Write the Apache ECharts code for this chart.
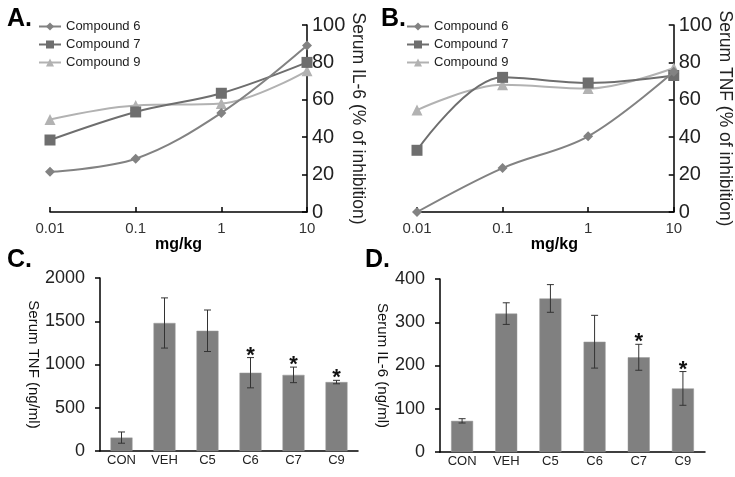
<!DOCTYPE html>
<html>
<head>
<meta charset="utf-8">
<script src="https://cdn.jsdelivr.net/npm/echarts@6/dist/echarts.min.js"></script>
<style>html,body{margin:0;padding:0;background:#fff}#c{width:735px;height:477px}</style>
</head>
<body>
<div id="c"></div>
<script>
// ---- Data ----
const doses = ['0.01', '0.1', '1', '10'];
const seriesNames = ['Compound 6', 'Compound 7', 'Compound 9'];
// Panel A: Serum IL-6 (% of inhibition)
const il6Inhib_c6 = [21.5, 28.5, 53, 89];
const il6Inhib_c7 = [38.5, 53.5, 63.5, 80];
const il6Inhib_c9 = [49.5, 57, 58, 75.5];
// Panel B: Serum TNF (% of inhibition)
const tnfInhib_c6 = [0, 23.5, 40.5, 75];
const tnfInhib_c7 = [33, 72, 69, 73];
const tnfInhib_c9 = [54.5, 68, 66, 77];
// Panels C & D
const groups = ['CON', 'VEH', 'C5', 'C6', 'C7', 'C9'];
const tnfMean = [155, 1480, 1390, 905, 880, 797];
const tnfErr = [65, 290, 240, 175, 90, 20];
const tnfSig = [0, 0, 0, 1, 1, 1];
const il6Mean = [72, 320, 355, 255, 219, 147];
const il6Err = [5, 25, 32, 61, 30, 39];
const il6Sig = [0, 0, 0, 0, 1, 1];

const FONT = 'Liberation Sans, Arial, sans-serif';
const lineColors = ['#828282', '#6e6e6e', '#b2b2b2'];
const symbols = ['diamond', 'rect', 'triangle'];
const symSizes = [10, 11, 11];

function lineSeries(data, idx, axisIdx) {
  return {
    name: seriesNames[idx], type: 'line', xAxisIndex: axisIdx, yAxisIndex: axisIdx,
    data: data, smooth: 0.35, symbol: symbols[idx], symbolSize: symSizes[idx],
    showSymbol: true,
    lineStyle: { color: lineColors[idx], width: 2 },
    itemStyle: { color: lineColors[idx] },
    z: 3 + (2 - idx)
  };
}

function errSeries(means, errs, sig, axisIdx) {
  const d = means.map((m, i) => [i, m, errs[i], sig[i]]);
  return {
    type: 'custom', xAxisIndex: axisIdx, yAxisIndex: axisIdx, z: 5,
    data: d,
    renderItem: function (params, api) {
      const i = api.value(0), m = api.value(1), e = api.value(2), s = api.value(3);
      const top = api.coord([i, m + e]);
      const bot = api.coord([i, m - e]);
      const cap = 3.5;
      const st = { stroke: '#333', lineWidth: 1 };
      const children = [
        { type: 'line', shape: { x1: top[0], y1: top[1], x2: bot[0], y2: bot[1] }, style: st },
        { type: 'line', shape: { x1: top[0] - cap, y1: top[1], x2: top[0] + cap, y2: top[1] }, style: st },
        { type: 'line', shape: { x1: bot[0] - cap, y1: bot[1], x2: bot[0] + cap, y2: bot[1] }, style: st }
      ];
      if (s) {
        children.push({ type: 'text', style: { text: '*', x: top[0], y: top[1] + 9, align: 'center', verticalAlign: 'bottom', font: 'bold 22px ' + FONT, fill: '#111' } });
      }
      return { type: 'group', children: children };
    }
  };
}

const chart = echarts.init(document.getElementById('c'), null, { renderer: 'canvas' });

const lineXAxis = (gi, nameShift) => ({
  type: 'category', gridIndex: gi, data: doses, boundaryGap: false,
  axisLine: { lineStyle: { color: '#000', width: 1.5 } },
  axisTick: { inside: true, length: 5, lineStyle: { color: '#000', width: 1.5 } },
  axisLabel: { fontFamily: FONT, fontSize: 15, color: '#333', margin: 9 },
  name: 'mg/kg', nameLocation: 'middle', nameGap: 23,
  nameTextStyle: { fontFamily: FONT, fontSize: 16, fontWeight: 'bold', color: '#000', padding: [0, 0, 0, nameShift] }
});
const lineYAxis = (gi, title, gap) => ({
  type: 'value', gridIndex: gi, position: 'right', min: 0, max: 100, interval: 20,
  splitLine: { show: false },
  axisLine: { show: true, lineStyle: { color: '#000', width: 1.5 } },
  axisTick: { show: true, inside: true, length: 5, lineStyle: { color: '#000', width: 1.5 } },
  axisLabel: { fontFamily: FONT, fontSize: 20, color: '#222', margin: 5 },
  name: title, nameLocation: 'middle', nameRotate: -90, nameGap: gap,
  nameTextStyle: { fontFamily: FONT, fontSize: 17.5, color: '#222' }
});
const barXAxis = (gi) => ({
  type: 'category', gridIndex: gi, data: groups,
  axisLine: { lineStyle: { color: '#000', width: 1.5 } },
  axisTick: { length: 5, lineStyle: { color: '#000', width: 1.5 } },
  axisLabel: { fontFamily: FONT, fontSize: 13, color: '#222', margin: 3 }
});
const barYAxis = (gi, max, interval, title, gap) => ({
  type: 'value', gridIndex: gi, min: 0, max: max, interval: interval,
  splitLine: { show: false },
  axisLine: { show: true, lineStyle: { color: '#000', width: 1.5 } },
  axisTick: { show: true, length: 5, lineStyle: { color: '#000', width: 1.5 } },
  axisLabel: { fontFamily: FONT, fontSize: 18, color: '#222', margin: 15, formatter: v => String(v) },
  name: title, nameLocation: 'middle', nameRotate: -90, nameGap: gap,
  nameTextStyle: { fontFamily: FONT, fontSize: 15, color: '#111' }
});

const legendBase = (left) => ({
  left: left, top: 20, orient: 'vertical', itemGap: 5, itemWidth: 22, itemHeight: 10,
  data: seriesNames.map(n => ({ name: n })),
  textStyle: { fontFamily: FONT, fontSize: 13, color: '#222' }, padding: 0
});

const option = {
  backgroundColor: '#fff',
  animation: false,
  title: [
    { text: 'A.', left: 2, top: 2 },
    { text: 'B.', left: 376, top: 2 },
    { text: 'C.', left: 2, top: 243 },
    { text: 'D.', left: 360, top: 243 }
  ].map(t => Object.assign(t, { textStyle: { fontFamily: FONT, fontSize: 25, fontWeight: 'bold', color: '#000' } })),
  legend: [legendBase(38), legendBase(406)],
  grid: [
    { left: 50, right: 428, top: 25, bottom: 265 },
    { left: 417, right: 60, top: 25, bottom: 265 },
    { left: 100, right: 377, top: 278, bottom: 26 },
    { left: 440, right: 30, top: 279, bottom: 25 }
  ],
  xAxis: [lineXAxis(0, 0), lineXAxis(1, 18), barXAxis(2), barXAxis(3)],
  yAxis: [
    lineYAxis(0, 'Serum IL-6 (% of inhibition)', 39),
    lineYAxis(1, 'Serum TNF (% of inhibition)', 35),
    barYAxis(2, 2000, 500, 'Serum TNF (ng/ml)', 53),
    barYAxis(3, 400, 100, 'Serum IL-6 (ng/ml)', 50)
  ],
  series: [
    lineSeries(il6Inhib_c6, 0, 0),
    lineSeries(il6Inhib_c7, 1, 0),
    lineSeries(il6Inhib_c9, 2, 0),
    lineSeries(tnfInhib_c6, 0, 1),
    lineSeries(tnfInhib_c7, 1, 1),
    lineSeries(tnfInhib_c9, 2, 1),
    { type: 'bar', xAxisIndex: 2, yAxisIndex: 2, data: tnfMean, barWidth: 22,
      itemStyle: { color: '#808080', borderColor: '#9a9a9a', borderWidth: 0.5 } },
    errSeries(tnfMean, tnfErr, tnfSig, 2),
    { type: 'bar', xAxisIndex: 3, yAxisIndex: 3, data: il6Mean, barWidth: 22,
      itemStyle: { color: '#808080', borderColor: '#9a9a9a', borderWidth: 0.5 } },
    errSeries(il6Mean, il6Err, il6Sig, 3)
  ]
};
chart.setOption(option);
</script>
</body>
</html>
